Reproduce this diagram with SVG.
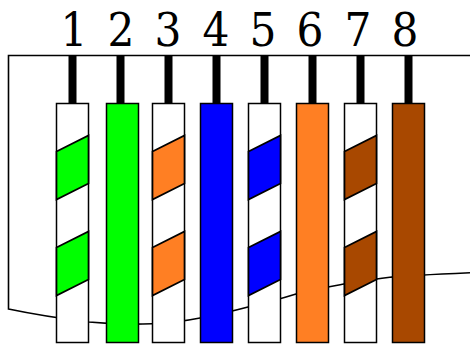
<svg xmlns="http://www.w3.org/2000/svg" width="470" height="344" viewBox="0 0 470 344">
<style>
.o{fill:none;stroke:#000;stroke-width:1.6}
.p{stroke:#000;stroke-width:8;fill:none}
.w{fill:#fff;stroke:#000;stroke-width:1.5}
.g{fill:#0f0}.b{fill:#00f}.r{fill:#ff7f23}.n{fill:#a84800}
.s{stroke:#000;stroke-width:1.7}
text{font-family:"DejaVu Serif Condensed","DejaVu Serif",serif;font-stretch:condensed;font-size:47px;text-anchor:middle;fill:#000}
</style>
<defs>
<g id="stripes">
<polygon points="0,48 32,32 32,80 0,96"/>
<polygon points="0,144 32,128 32,176 0,192"/>
</g>
</defs>
<g id="connectors">
<path id="jack" class="o" d="M470 55.500H8.500V309C30 313.500 56 318 89 322C110 324 135 324.500 152 323.800C170 323 185 321 200 318C220 314 233 311 248 307C265 303 281 298.700 296 294C315 289 330 286.500 344 284C358 281.500 377 279 392 277C408 275.500 425 274.700 470 272.700"/>
<path class="p" d="M72.500 55.500V104M120.500 55.500V104M168.500 55.500V104M216.500 55.500V104M264.500 55.500V104M312.500 55.500V104M360.500 55.500V104M408.500 55.500V104"/>
</g>
<g id="pin1"><text x="74" y="46">1</text><rect class="w" x="56.500" y="103.500" width="32" height="239"/><use href="#stripes" class="g s" x="56.500" y="103.500"/></g>
<g id="pin2"><text x="121" y="46">2</text><rect class="w g" x="106.500" y="103.500" width="32" height="239"/></g>
<g id="pin3"><text x="168" y="46">3</text><rect class="w" x="152.500" y="103.500" width="32" height="239"/><use href="#stripes" class="r s" x="152.500" y="103.500"/></g>
<g id="pin4"><text x="216" y="46">4</text><rect class="w b" x="200.500" y="103.500" width="32" height="239"/></g>
<g id="pin5"><text x="263" y="46">5</text><rect class="w" x="248.500" y="103.500" width="32" height="239"/><use href="#stripes" class="b s" x="248.500" y="103.500"/></g>
<g id="pin6"><text x="310" y="46">6</text><rect class="w r" x="296.500" y="103.500" width="32" height="239"/></g>
<g id="pin7"><text x="358" y="46">7</text><rect class="w" x="344.500" y="103.500" width="32" height="239"/><use href="#stripes" class="n s" x="344.500" y="103.500"/></g>
<g id="pin8"><text x="405" y="46">8</text><rect class="w n" x="392.500" y="103.500" width="32" height="239"/></g>
</svg>
